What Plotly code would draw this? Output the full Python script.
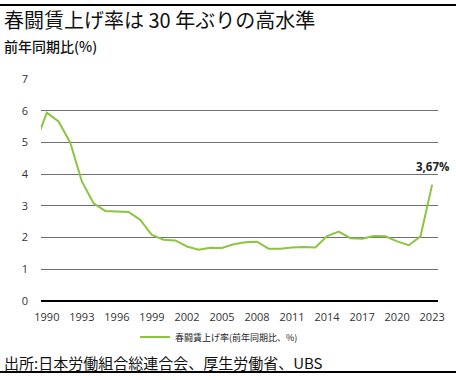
import plotly.graph_objects as go

years = list(range(1989, 2024))
rates = [4.96, 5.94, 5.66, 5.00, 3.77, 3.08, 2.84, 2.82, 2.81, 2.56, 2.08, 1.93, 1.91,
         1.72, 1.62, 1.68, 1.67, 1.79, 1.85, 1.87, 1.65, 1.65, 1.69, 1.70, 1.69,
         2.05, 2.19, 1.98, 1.96, 2.05, 2.04, 1.88, 1.76, 2.04, 3.67]
tick_years = list(range(1990, 2024, 3))
series_name = "春闘賃上げ率(前年同期比、%)"
title_text = "春闘賃上げ率は 30 年ぶりの高水準"
subtitle_text = "前年同期比(%)"
source_text = "出所:日本労働組合総連合会、厚生労働省、UBS"
last_label = "3,67%"

W, H = 456, 380
ML, MR, MT, MB = 41, 18, 79, 79
PW, PH = W - ML - MR, H - MT - MB

def px_x(p):
    return (p - ML) / PW

def px_y(p):
    return (H - MB - p) / PH

FONT = "Open Sans, Noto Sans CJK JP, sans-serif"
CJK = "Noto Sans CJK JP, sans-serif"

fig = go.Figure()
fig.add_trace(go.Scatter(
    x=years, y=rates, mode="lines", name=series_name,
    line=dict(color="#8cc63f", width=2), showlegend=True,
))

fig.update_layout(
    width=W, height=H,
    margin=dict(l=ML, r=MR, t=MT, b=MB),
    paper_bgcolor="white", plot_bgcolor="white",
    font=dict(family=FONT, size=11, color="#333333"),
    showlegend=True,
    legend=dict(orientation="h", x=px_x(219), xanchor="center", y=px_y(337), yanchor="middle",
                font=dict(family=CJK, size=9, color="#222222"), bgcolor="rgba(0,0,0,0)",
                itemwidth=30),
    xaxis=dict(range=[1989.5, 2023.5], tickmode="array", tickvals=tick_years,
               ticktext=[str(y) for y in tick_years], showgrid=False, zeroline=False,
               showline=False, ticks="", ticklabelstandoff=8,
               tickfont=dict(family=FONT, size=11, color="#333333")),
    yaxis=dict(range=[0, 7], dtick=1, tick0=0, showgrid=True, gridcolor="#707070",
               gridwidth=1, zeroline=True, zerolinecolor="#000000", zerolinewidth=1.5,
               showline=False, ticks="", ticklabelstandoff=12,
               tickfont=dict(family=FONT, size=11, color="#333333")),
)

fig.add_annotation(x=years[-1], y=rates[-1], text="<b>" + last_label + "</b>", showarrow=False,
                   xref="x", yref="y", xanchor="center", yanchor="bottom", yshift=9,
                   font=dict(family=FONT, size=11.5, color="#222222"))

fig.add_annotation(x=px_x(2), y=px_y(19), xref="paper", yref="paper", text=title_text,
                   showarrow=False, xanchor="left", yanchor="middle",
                   font=dict(family=CJK, size=20, color="#111111"))
fig.add_annotation(x=px_x(2), y=px_y(46), xref="paper", yref="paper", text=subtitle_text,
                   showarrow=False, xanchor="left", yanchor="middle",
                   font=dict(family="Noto Sans CJK JP Medium, Noto Sans CJK JP, sans-serif",
                             size=14, color="#111111", weight=500))
fig.add_annotation(x=px_x(2), y=px_y(362), xref="paper", yref="paper", text=source_text,
                   showarrow=False, xanchor="left", yanchor="middle",
                   font=dict(family=CJK, size=15, color="#111111"))

for yy in (5, 372):
    fig.add_shape(type="line", xref="paper", yref="paper", x0=px_x(0), x1=px_x(W),
                  y0=px_y(yy), y1=px_y(yy), line=dict(color="#000000", width=2))

fig.write_html("out.html", config={"displayModeBar": False},
               post_script="document.body.style.margin='0';document.body.style.overflow='hidden';")
